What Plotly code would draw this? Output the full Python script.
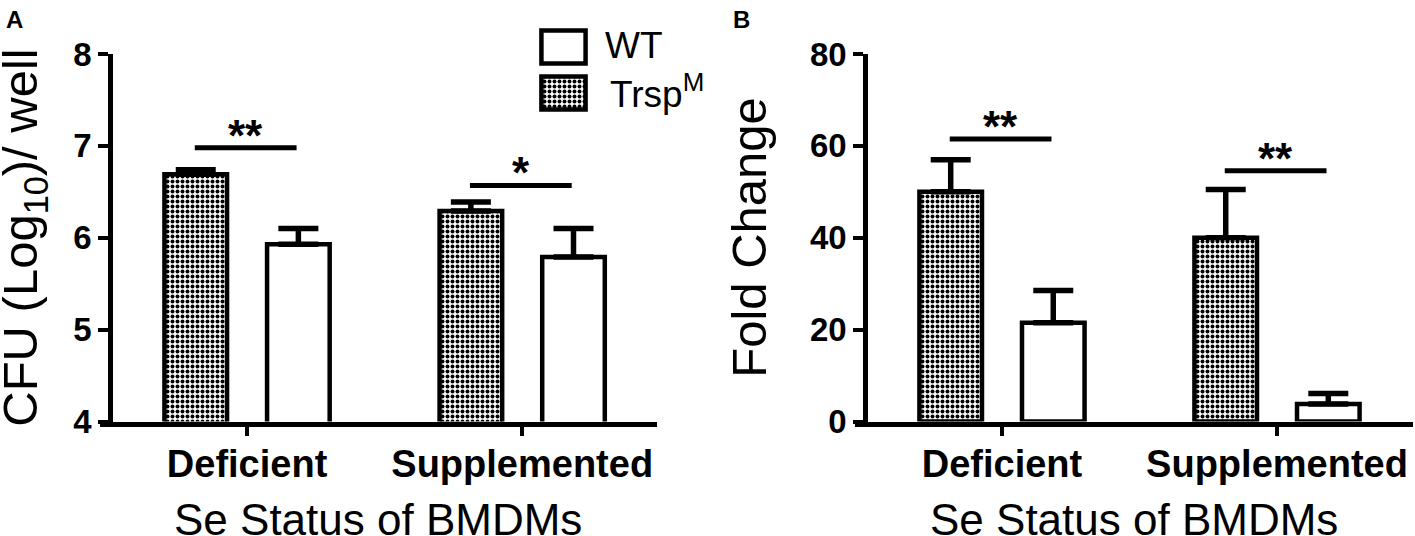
import plotly.graph_objects as go

# ---------------- data ----------------
categories = ["Deficient", "Supplemented"]
group_names = ["Trsp<sup>M</sup>", "WT"]

cfu_trsp = [6.69, 6.29]
cfu_trsp_err = [0.05, 0.10]
cfu_wt = [5.93, 5.79]
cfu_wt_err = [0.17, 0.31]

fold_trsp = [50.0, 40.0]
fold_trsp_err = [7.0, 10.5]
fold_wt = [21.5, 3.8]
fold_wt_err = [7.0, 2.3]

cfu_ticks = [4, 5, 6, 7, 8]
fold_ticks = [0, 20, 40, 60, 80]

cfu_sig_text = ["**", "*"]
cfu_sig_level = [6.98, 6.57]
fold_sig_text = ["**", "**"]
fold_sig_level = [61.5, 54.6]

x_title = "Se Status of BMDMs"
y_titles = ["CFU (Log<sub>10</sub>)/ well", "Fold Change"]
legend_labels = ["WT", "Trsp<sup>M</sup>"]

# ---------------- styling ----------------
W, H = 1415, 536
FONT = "Liberation Sans, Arial, Helvetica, sans-serif"
LW = 4.5


def px_x(p):
    return p / W


def px_y(p):
    return 1 - p / H


pattern_style = dict(shape=".", fgcolor="black", bgcolor="white", size=5, solidity=0.5)


def bars(vals, errs, patterned, xa, ya, name):
    return go.Bar(
        x=categories, y=vals, name=name, xaxis=xa, yaxis=ya, showlegend=False,
        marker=dict(color="white", line=dict(color="black", width=LW),
                    pattern=pattern_style if patterned else dict(shape="")),
        error_y=dict(type="data", array=errs, arrayminus=[0] * len(errs), symmetric=False,
                     color="black", thickness=5.5, width=20),
    )


fig = go.Figure()
fig.add_trace(bars(cfu_trsp, cfu_trsp_err, True, "x", "y", group_names[0]))
fig.add_trace(bars(cfu_wt, cfu_wt_err, False, "x", "y", group_names[1]))
fig.add_trace(bars(fold_trsp, fold_trsp_err, True, "x2", "y2", group_names[0]))
fig.add_trace(bars(fold_wt, fold_wt_err, False, "x2", "y2", group_names[1]))

# legend swatches (hidden axes)
fig.add_trace(go.Bar(
    y=[1, 0], x=[1, 1], orientation="h", width=0.72, xaxis="x3", yaxis="y3", showlegend=False,
    marker=dict(color="white", line=dict(color="black", width=LW),
                pattern=dict(shape=["", "."], fgcolor="black", bgcolor="white", size=5, solidity=0.5)),
    hoverinfo="skip",
))

tick_font_x = dict(family=FONT, size=38, color="black", weight="bold")
tick_font_y = dict(family=FONT, size=33, color="black", weight="bold")
title_font = dict(family=FONT, size=44, color="black")
ytitle_font = dict(family=FONT, size=49, color="black")

common_x = dict(type="category", showline=True, linewidth=LW, linecolor="black",
                ticks="outside", ticklen=10, tickwidth=3.5, tickcolor="black",
                showgrid=False, zeroline=False, tickfont=tick_font_x, automargin=False,
                ticklabelstandoff=-5)
common_y = dict(showline=True, linewidth=LW, linecolor="black", ticks="outside",
                ticklen=10, tickwidth=4, tickcolor="black", showgrid=False,
                zeroline=False, tickfont=tick_font_y, anchor="free", automargin=False)

y_dom = [px_y(421.5), px_y(54)]
xa_dom = [px_x(100), px_x(657)]
xb_dom = [px_x(855), px_x(1413)]

fig.update_layout(
    template="none",
    width=W, height=H, margin=dict(l=0, r=0, t=0, b=0, pad=0),
    plot_bgcolor="white", paper_bgcolor="white",
    font=dict(family=FONT, color="black"),
    barmode="group", bargap=0.254, bargroupgap=0.39,
    xaxis=dict(common_x, domain=xa_dom, range=[-0.5345, 1.49], anchor="y"),
    yaxis=dict(common_y, domain=y_dom, range=[4, 8], tickvals=cfu_ticks, position=px_x(110)),
    xaxis2=dict(common_x, domain=xb_dom, range=[-0.5345, 1.4945], anchor="y2"),
    yaxis2=dict(common_y, domain=y_dom, range=[0, 80], tickvals=fold_ticks, position=px_x(865)),
    xaxis3=dict(domain=[px_x(537), px_x(590)], range=[-0.1, 1.1], visible=False,
                anchor="y3", automargin=False),
    yaxis3=dict(domain=[px_y(116), px_y(24)], range=[-0.5, 1.5], visible=False,
                anchor="x3", automargin=False),
)

shapes = []
annotations = []

# axis titles
y_mid = (y_dom[0] + y_dom[1]) / 2
for dom in (xa_dom, xb_dom):
    annotations.append(dict(xref="paper", yref="paper", x=(dom[0] + dom[1]) / 2, y=px_y(519),
                            text=x_title, showarrow=False, xanchor="center", yanchor="middle",
                            font=title_font))
for xpos, txt in zip((px_x(24), px_x(749)), y_titles):
    annotations.append(dict(xref="paper", yref="paper", x=xpos, y=y_mid, text=txt,
                            textangle=-90, showarrow=False, xanchor="center", yanchor="middle",
                            font=ytitle_font))

# significance bars and stars
for xa, ya, levels, texts in (("x", "y", cfu_sig_level, cfu_sig_text),
                              ("x2", "y2", fold_sig_level, fold_sig_text)):
    for i, (lvl, txt) in enumerate(zip(levels, texts)):
        shapes.append(dict(type="line", xref=xa, yref=ya, x0=i - 0.19, x1=i + 0.18,
                           y0=lvl, y1=lvl, line=dict(color="black", width=5)))
        annotations.append(dict(xref=xa, yref=ya, x=i - 0.005, y=lvl, text=txt, showarrow=False,
                                yanchor="bottom", yshift=-14,
                                font=dict(family=FONT, size=44, color="black", weight="bold")))

# legend labels
annotations.append(dict(xref="paper", yref="paper", x=px_x(603), y=px_y(45), text=legend_labels[0],
                        showarrow=False, xanchor="left", yanchor="middle",
                        font=dict(family=FONT, size=37, color="black")))
annotations.append(dict(xref="paper", yref="paper", x=px_x(608), y=px_y(92), text=legend_labels[1],
                        showarrow=False, xanchor="left", yanchor="middle",
                        font=dict(family=FONT, size=37, color="black")))
# panel letters
annotations.append(dict(xref="paper", yref="paper", x=px_x(4), y=px_y(4), text="A", showarrow=False,
                        xanchor="left", yanchor="top",
                        font=dict(family=FONT, size=24, color="black", weight="bold")))
annotations.append(dict(xref="paper", yref="paper", x=px_x(731), y=px_y(4), text="B", showarrow=False,
                        xanchor="left", yanchor="top",
                        font=dict(family=FONT, size=24, color="black", weight="bold")))

fig.update_layout(shapes=shapes, annotations=annotations)
fig.write_html("out.html",
               config={"displayModeBar": False},
               post_script="document.body.style.margin='0px';document.body.style.padding='0px';"
                           "document.body.style.overflow='hidden';")
